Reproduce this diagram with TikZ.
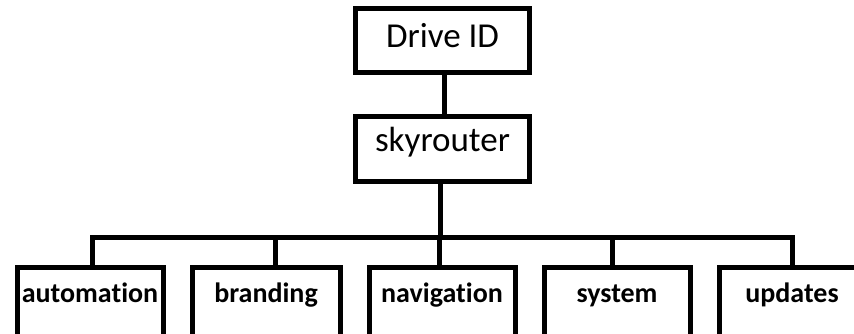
\documentclass[tikz,border=0pt]{standalone}
\usepackage{fontspec}
\setmainfont[Ligatures=NoCommon]{Carlito}
\begin{document}
\begin{tikzpicture}[x=1pt,y=-1pt,
  topbox/.style={draw,line width=5pt,inner sep=0pt,outer sep=0pt,anchor=north,
    font=\fontsize{35}{40}\selectfont},
  leafbox/.style={draw,line width=5pt,inner sep=0pt,outer sep=0pt,anchor=north,
    minimum width=146pt,text height=35pt,text depth=80pt,
    font=\fontsize{28}{32}\selectfont\bfseries},
  conn/.style={line width=5pt}]
\clip (0,0) rectangle (854,334);
\fill[white] (0,0) rectangle (854,334);
\node[topbox,minimum width=174pt,text height=39pt,text depth=25pt] (drive) at (442.5,9) {Drive ID};
\node[topbox,minimum width=174pt,text height=34pt,text depth=30pt] (sky) at (442.5,117) {skyrouter};
\node[leafbox,minimum width=146pt] (auto) at (90,267) {automation};
\node[leafbox,minimum width=148pt] (brand) at (266,267) {branding};
\node[leafbox] (nav) at (442,267) {navigation};
\node[leafbox] (sys) at (617,267) {system};
\node[leafbox] (upd) at (792,267) {updates};
\coordinate (j) at (440,237);
\draw[conn] ([xshift=1.5pt]drive.south) -- ([xshift=1.5pt]sky.north);
\draw[conn] ([xshift=-2.5pt]sky.south) -- (j);
\draw[conn] ([xshift=2pt]auto.north) |- (j);
\draw[conn] ([xshift=0pt]upd.north) |- (j);
\draw[conn] ([xshift=9pt]brand.north) -- ([xshift=9pt]brand.north |- j);
\draw[conn] ([xshift=-3pt]nav.north) -- ([xshift=-3pt]nav.north |- j);
\draw[conn] ([xshift=-5pt]sys.north) -- ([xshift=-5pt]sys.north |- j);
\end{tikzpicture}
\end{document}
